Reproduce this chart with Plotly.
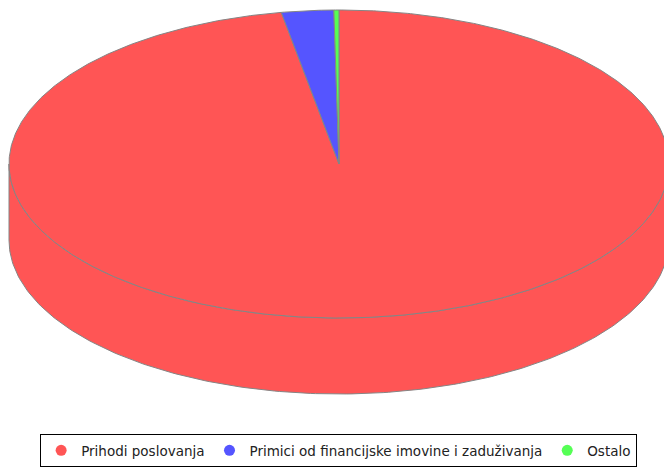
import numpy as np
import plotly.graph_objects as go

categories = ["Prihodi poslovanja", "Primici od financijske imovine i zaduživanja", "Ostalo"]
values = [97.2, 2.55, 0.25]
colors = ["#FF5555", "#5555FF", "#55FF55"]

W, H = 664, 468
cx, cy, rx, ry, depth = 339, 164, 330, 154, 76
edge = "#858585"

def pt(a_deg, dy=0.0):
    a = np.radians(a_deg)
    return cx + rx * np.cos(a), cy - ry * np.sin(a) + dy

fig = go.Figure()
total = sum(values)
start = 90.0
slices = []
for v in values:
    sweep = 360.0 * v / total
    slices.append((start, start - sweep))
    start -= sweep

# side walls (front half: angle in (-180, 0) mod 360)
for (a0, a1), col in zip(slices, colors):
    lo, hi = a1, a0
    for k in range(-2, 3):
        f_lo, f_hi = -180 + 360 * k, 0 + 360 * k
        s, e = max(lo, f_lo), min(hi, f_hi)
        if e - s > 0.01:
            ang = np.linspace(s, e, 200)
            xt, yt = pt(ang)
            xb, yb = pt(ang[::-1], depth)
            xs = np.concatenate([xt, xb, xt[:1]])
            ys = np.concatenate([yt, yb, yt[:1]])
            fig.add_trace(go.Scatter(x=xs, y=ys, mode="lines", fill="toself",
                                     fillcolor=col, line=dict(color=edge, width=1),
                                     hoverinfo="skip", showlegend=False))

# top faces
for (a0, a1), col in zip(slices, colors):
    ang = np.linspace(a0, a1, max(int(abs(a0 - a1) * 2), 4))
    xa, ya = pt(ang)
    xs = np.concatenate([[cx], xa, [cx]])
    ys = np.concatenate([[cy], ya, [cy]])
    fig.add_trace(go.Scatter(x=xs, y=ys, mode="lines", fill="toself",
                             fillcolor=col, line=dict(color=edge, width=1),
                             hoverinfo="skip", showlegend=False))

# legend entries
for name, col in zip(categories, colors):
    fig.add_trace(go.Scatter(x=[None], y=[None], mode="markers", name=name,
                             marker=dict(symbol="circle", size=11, color=col)))

fig.update_layout(
    width=W, height=H,
    margin=dict(l=0, r=0, t=0, b=0),
    paper_bgcolor="white", plot_bgcolor="white",
    xaxis=dict(range=[0, W], visible=False, fixedrange=True),
    yaxis=dict(range=[H, 0], visible=False, fixedrange=True),
    font=dict(family="DejaVu Sans", size=13.5, color="#222222"),
    legend=dict(orientation="h", x=0.51, xanchor="center", y=0.002, yanchor="bottom",
                bordercolor="#000000", borderwidth=1, bgcolor="white",
                itemwidth=30, tracegroupgap=0, font=dict(size=13.5)),
)

fig.write_html("out.html", config={"displayModeBar": False},
               post_script="document.body.style.margin='0';document.body.style.overflow='hidden';")
